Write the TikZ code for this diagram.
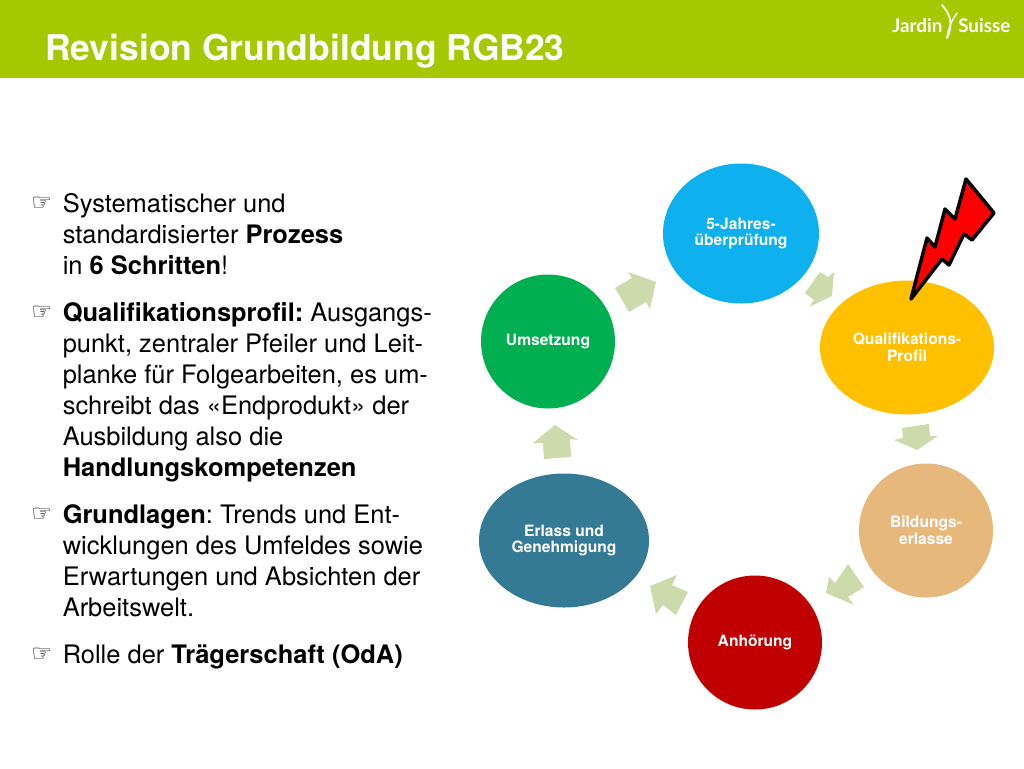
\documentclass[tikz,border=0pt]{standalone}
\usepackage{fontspec}
\setmainfont{TeX Gyre Heros}
\newfontfamily\symfont{DejaVu Sans}
\newfontfamily\logofont{Lato}
\frenchspacing
\definecolor{hdr}{HTML}{A5C800}
\definecolor{arrowgreen}{HTML}{CDDBAC}
\definecolor{cblue}{HTML}{0EB0EE}
\definecolor{cyellow}{HTML}{FFC000}
\definecolor{ctan}{HTML}{E6B87C}
\definecolor{cred}{HTML}{C00000}
\definecolor{cteal}{HTML}{357A94}
\definecolor{cgreen}{HTML}{00B050}
\usetikzlibrary{shapes.geometric}
\tikzset{
  stage/.style={ellipse,fill=#1,inner sep=0pt,text=white,align=center,font=\fontsize{11.7}{12.5}\selectfont\bfseries},
  body/.style={anchor=base west,inner sep=0pt,font=\fontsize{19.1}{23}\selectfont,text=black},
  bulletmark/.style={anchor=base west,inner sep=0pt,font=\fontsize{17.5}{20}\selectfont\symfont},
  cyclearrow/.style={fill=arrowgreen,draw=none},
  logotext/.style={anchor=base west,inner sep=0pt,text=white,font=\fontsize{14.1}{18}\selectfont\logofont\bfseries}
}
\begin{document}
\begin{tikzpicture}[x=0.75pt,y=-0.75pt]
\useasboundingbox (0,0) rectangle (1024,768);
\fill[white] (0,0) rectangle (1024,768);
\fill[hdr] (0,0) rectangle (1024,78);
\node[anchor=base west,inner sep=0pt,text=white,font=\fontsize{26.6}{30}\selectfont\bfseries] (title) at (45,60.5) {Revision Grundbildung RGB23};
% logo
\node[logotext] (logoa) at (892,32.5) {Jardin};
\node[logotext] (logob) at (958,32.5) {Suisse};
\draw[white,line width=1.3pt,line cap=round] (942,5) .. controls (950,14) and (954,24) .. (947,38);
\draw[white,line width=1pt,line cap=round] (947,38) .. controls (948,28) and (952,20) .. (957,13);
% stages
\node[stage=cblue,minimum width=117pt,minimum height=105pt] (s1) at (741,233.5) {5-Jahres-\\überprüfung};
\node[stage=cyellow,minimum width=130.5pt,minimum height=100.5pt] (s2) at (907,347.5) {Qualifikations-\\Profil};
\node[stage=ctan,minimum width=100.5pt,minimum height=100.5pt] (s3) at (926,530.5) {Bildungs-\\erlasse};
\node[stage=cred,minimum width=100.5pt,minimum height=100.5pt] (s4) at (755,642.5) {Anhörung};
\node[stage=cteal,minimum width=127.5pt,minimum height=100.5pt] (s5) at (564,540.5) {Erlass und\\Genehmigung};
\node[stage=cgreen,minimum width=100.5pt,minimum height=100.5pt] (s6) at (548,341.5) {Umsetzung};
% arrows
\fill[cyclearrow] (628,272) -- (656,282) -- (650,309) -- (646,302) -- (629,312) -- (615,288) -- (632,278) -- cycle;
\fill[cyclearrow] (820,272) -- (828,277) -- (834,272) -- (832,296) -- (809,307) -- (814,300) -- (805,293) -- cycle;
\fill[cyclearrow] (902,428) -- (929,424) -- (930,436) -- (938,436) -- (917,450) -- (894,440) -- (903,438) -- cycle;
\fill[cyclearrow] (848,564) -- (864,587) -- (848,597) -- (854,605) -- (826,593) -- (829,577) -- (835,583) -- cycle;
\fill[cyclearrow] (677,575) -- (672,585) -- (688,592) -- (676,615) -- (663,605) -- (656,614) -- (650,586) -- cycle;
\fill[cyclearrow] (555,425) -- (578,440) -- (570,439) -- (571,457) -- (544,459) -- (543,443) -- (533,443) -- cycle;
% lightning
\filldraw[fill=red,draw=black,line width=2.6pt,line join=round] (911,299) -- (927,238) -- (935,247) -- (945,209) -- (955,219) -- (966,179) -- (994,213) -- (972,240) -- (964,234) -- (949,265) -- (942,259) -- cycle;
% text
\node[bulletmark] (b1) at (31,210) {☞};
\node[body] (l1) at (62.5,212.5) {Systematischer und};
\node[body] (l2) at (62.5,243.5) {standardisierter \textbf{Prozess}};
\node[body] (l3) at (62.5,274.5) {in \textbf{6 Schritten}!};
\node[bulletmark] (b2) at (31,319) {☞};
\node[body] (l4) at (62.5,321.5) {\textbf{Qualifikationsprofil:} Ausgangs-};
\node[body] (l5) at (62.5,352.5) {punkt, zentraler Pfeiler und Leit-};
\node[body] (l6) at (62.5,383.5) {planke für Folgearbeiten, es um-};
\node[body] (l7) at (62.5,414.5) {schreibt das «Endprodukt» der};
\node[body] (l8) at (62.5,445.5) {Ausbildung also die};
\node[body] (l9) at (62.5,476.5) {\textbf{Handlungskompetenzen}};
\node[bulletmark] (b3) at (31,521) {☞};
\node[body] (l10) at (62.5,523.5) {\textbf{Grundlagen}: Trends und Ent-};
\node[body] (l11) at (62.5,554.5) {wicklungen des Umfeldes sowie};
\node[body] (l12) at (62.5,585.5) {Erwartungen und Absichten der};
\node[body] (l13) at (62.5,616.5) {Arbeitswelt.};
\node[bulletmark] (b4) at (31,661) {☞};
\node[body] (l14) at (62.5,663.5) {Rolle der \textbf{Trägerschaft (OdA)}};
\end{tikzpicture}
\end{document}
